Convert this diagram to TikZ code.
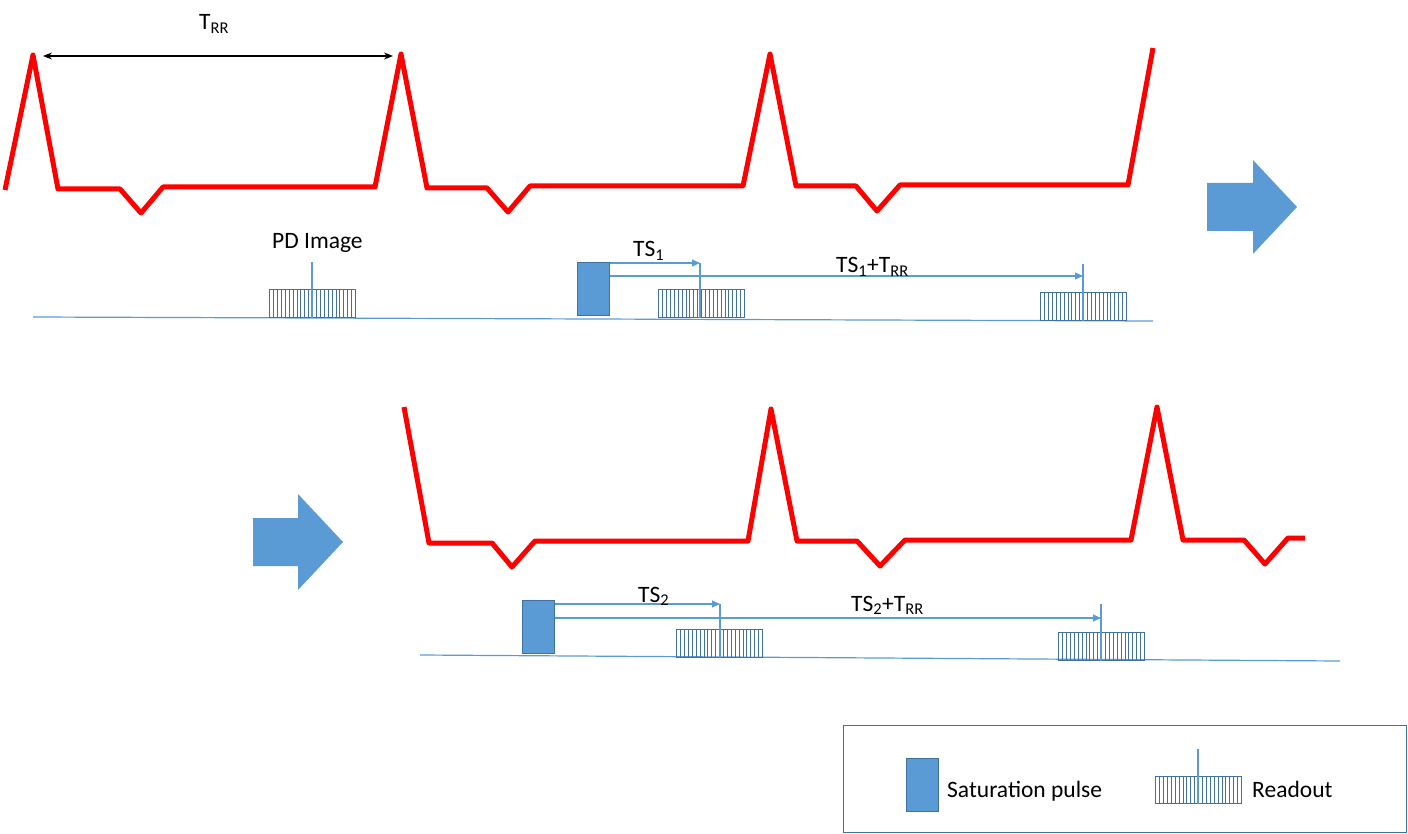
\documentclass[tikz,border=0pt]{standalone}
\usepackage{fontspec}
\setmainfont{Carlito}
\usetikzlibrary{arrows.meta}
\definecolor{ecg}{RGB}{255,0,0}
\definecolor{bfill}{HTML}{5B9BD5}
\definecolor{bline}{HTML}{41719C}
\begin{document}
\begin{tikzpicture}[x=1pt,y=-1pt,
  ecgline/.style={ecg, line width=5pt, line join=round},
  baseln/.style={bfill, line width=1.2pt},
  satpulse/.style={draw=bline, fill=bfill, line width=1pt, minimum width=32pt, minimum height=53pt, inner sep=0pt, anchor=north west},
  readout/.style={draw=bline, line width=0.9pt, minimum width=86pt, minimum height=28pt, inner sep=0pt, anchor=north west,
    path picture={\foreach \k in {1,...,21}{\draw[bline, line width=0.5pt] ([xshift=\k*3.9pt]path picture bounding box.south west) -- ([xshift=\k*3.9pt]path picture bounding box.north west);}}},
  marker/.style={bfill, line width=1.1pt},
  timearrow/.style={bfill, line width=1.1pt, -{Triangle[length=8pt,width=7pt]}},
  bigarrow/.style={fill=bfill, draw=none},
  lbl/.style={font=\fontsize{23.5}{27}\selectfont, inner sep=0pt, anchor=base west},
]
\useasboundingbox (0,0) rectangle (1408,834);

% ---------- top ECG ----------
\draw[ecgline] (5,190) -- (33,55) -- (58,189) -- (120,189) -- (141,213) -- (163,187)
  -- (375,187) -- (401,54) -- (427,188) -- (487,188) -- (508,212) -- (530,186)
  -- (743,186) -- (770,54) -- (796,186) -- (856,186) -- (877,211) -- (900,185)
  -- (1128,185) -- (1153,48);

% T_RR
\coordinate (rrL) at (43,56);
\coordinate (rrR) at (393,56);
\draw[black, line width=1.2pt, {Stealth[length=9pt,width=7pt]}-{Stealth[length=9pt,width=7pt]}] (rrL) -- (rrR);
\node[lbl] (trr) at (199,30) {T\textsubscript{RR}};

% top sequence
\coordinate (bl1) at (33,317);
\coordinate (bl2) at (1153,321);
\draw[baseln] (bl1) -- (bl2);

\node[readout] (ro0) at (269,289) {};
\coordinate (m0) at (312,262);
\draw[marker] (m0) -- (m0 |- ro0.south);
\node[lbl] (pd) at (272,249) {PD Image};

\node[satpulse] (sp1) at (577,262) {};
\node[readout] (ro1) at (658,289) {};
\node[readout] (ro2) at (1040,292) {};
\coordinate (t1) at (700,263);
\coordinate (t1b) at (1083,276);
\coordinate (t1bt) at (1083,264);
\draw[timearrow] (sp1.east |- t1) -- (t1);
\draw[marker] (t1) -- (t1 |- ro1.south);
\draw[timearrow] (sp1.east |- t1b) -- (t1b);
\draw[marker] (t1bt) -- (t1bt |- ro2.south);
\node[lbl] (ts1) at (633,257) {TS\textsubscript{1}};
\node[lbl] (ts1rr) at (836,273) {TS\textsubscript{1}+T\textsubscript{RR}};

% big arrow 1
\fill[bigarrow] (1207,183) -- (1253,183) -- (1253,160) -- (1297,207) -- (1253,254) -- (1253,231) -- (1207,231) -- cycle;

% ---------- bottom ECG ----------
\draw[ecgline] (404,407) -- (429,543) -- (492,543) -- (512,567) -- (535,541)
  -- (748,541) -- (771,409) -- (797,541) -- (857,541) -- (880,566) -- (905,540)
  -- (1131,540) -- (1157,407) -- (1183,540) -- (1244,540) -- (1265,564) -- (1288,538) -- (1305,538);

% big arrow 2
\fill[bigarrow] (253,518) -- (298,518) -- (298,494) -- (343,542) -- (298,590) -- (298,566) -- (253,566) -- cycle;

% bottom sequence
\coordinate (bl3) at (420,655);
\coordinate (bl4) at (1340,661);
\draw[baseln] (bl3) -- (bl4);

\node[satpulse] (sp2) at (522,600) {};
\node[readout] (ro3) at (676,629) {};
\node[readout] (ro4) at (1058,632) {};
\coordinate (t2) at (720,604);
\coordinate (t2b) at (1101,618);
\coordinate (t2bt) at (1101,604);
\draw[timearrow] (sp2.east |- t2) -- (t2);
\draw[marker] (t2) -- (t2 |- ro3.south);
\draw[timearrow] (sp2.east |- t2b) -- (t2b);
\draw[marker] (t2bt) -- (t2bt |- ro4.south);
\node[lbl] (ts2) at (638,602) {TS\textsubscript{2}};
\node[lbl] (ts2rr) at (851,611) {TS\textsubscript{2}+T\textsubscript{RR}};

% ---------- legend ----------
\node[draw=bline, line width=1pt, minimum width=563pt, minimum height=107pt, inner sep=0pt, anchor=north west] (legend) at (843,725) {};
\node[satpulse] (lsp) at (906,758) {};
\node[lbl] (lsptxt) at (947,797) {Saturation pulse};
\node[readout, minimum width=86pt, minimum height=27pt] (lro) at (1155,776) {};
\coordinate (lm) at (1198,749);
\draw[marker] (lm) -- (lm |- lro.south);
\node[lbl] (lrotxt) at (1252,797) {Readout};
\end{tikzpicture}
\end{document}
